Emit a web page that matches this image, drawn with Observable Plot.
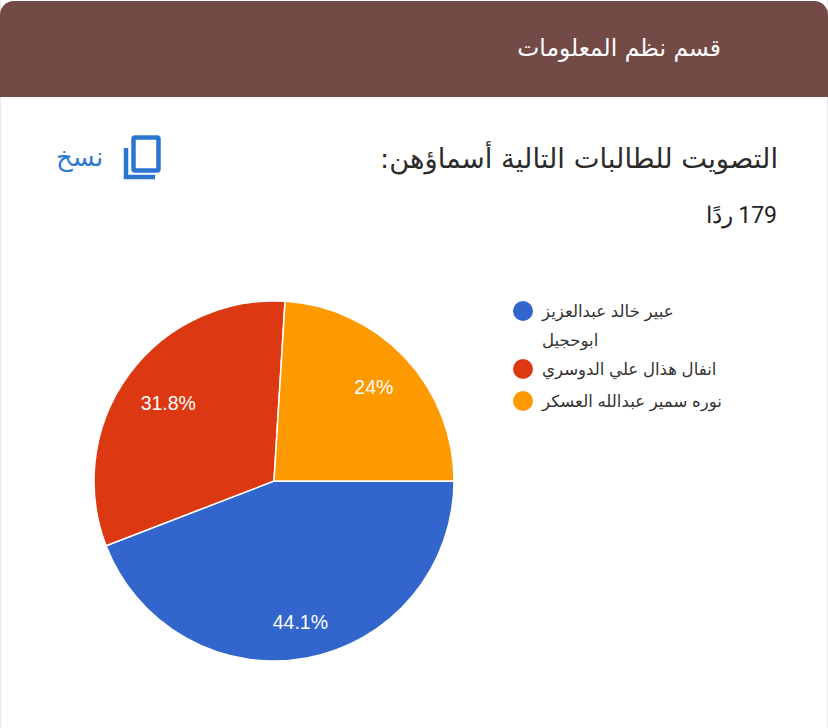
<!doctype html>
<html lang="ar"><head><meta charset="utf-8">
<script src="https://cdn.jsdelivr.net/npm/d3@7"></script>
<script src="https://cdn.jsdelivr.net/npm/@observablehq/plot@0.6"></script>
<style>
html,body{margin:0;padding:0;background:#fff;width:828px;height:728px;overflow:hidden}
#page{position:relative;width:828px;height:728px;font-family:"DejaVu Sans","Noto Sans",sans-serif;background:#fff}
#edge{position:absolute;left:0;top:0;width:826px;height:728px;border:1px solid #e8e8e8;border-top:0;border-bottom:0}
#head{position:absolute;left:0;top:1px;width:828px;height:96px;background:#734a46;border-radius:14px 14px 0 0}
.t{position:absolute;white-space:nowrap}
#sec{right:107px;top:28px;color:#fff;font-size:23.4px;line-height:40px}
#q{right:50px;top:139px;color:#2b2b2b;font-size:27.4px;line-height:40px}
#n{right:51px;top:200px;color:#222;font-size:23px;line-height:32px;font-family:Roboto,"Noto Sans",sans-serif}
#copy{left:56px;top:141px;color:#2f7bd0;font-size:26px;line-height:32px}
#ic{position:absolute;left:122px;top:133px}
#chart{position:absolute;left:0;top:240px}
</style></head><body>
<div id="page">
<div id="edge"></div>
<div id="head"></div>
<div class="t" id="sec" dir="rtl">قسم نظم المعلومات</div>
<div class="t" id="q" dir="rtl">التصويت للطالبات التالية أسماؤهن:</div>
<div class="t" id="n" dir="rtl">179 ردًا</div>
<div class="t" id="copy" dir="rtl">نسخ</div>
<svg id="ic" width="42" height="48" viewBox="0 0 42 48" fill="none" stroke="#2a75cf" stroke-width="4.5">
<rect x="11.5" y="4.5" width="25" height="33" rx="1.5"/><path d="M4 15V44H33"/></svg>
<div id="chart"></div>
</div>
<script>
const names = ["عبير خالد عبدالعزيز ابوحجيل","انفال هذال علي الدوسري","نوره سمير عبدالله العسكر"];
const legendLines = [["عبير خالد عبدالعزيز","ابوحجيل"],["انفال هذال علي الدوسري"],["نوره سمير عبدالله العسكر"]];
const shares = [44.1, 31.8, 24];
const shareLabels = ["44.1%", "31.8%", "24%"];
const colors = ["#3366cc", "#dc3912", "#ff9900"];
const W = 828, H = 488, cx = 274, cy = 241, R = 180;
const labelRadii = [144, 131, 137];
const legendY = [71, 129, 161];
const legendLeft = 542;

const arcs = d3.pie().sort(null).startAngle(Math.PI/2).endAngle(Math.PI/2 + 2*Math.PI)(shares);
const arcGen = d3.arc().innerRadius(0).outerRadius(R);
const rows = arcs.map((a,i)=>({name:names[i],share:shares[i],label:shareLabels[i],a,lr:labelRadii[i]}));

function pieMark(index, {color}){
  const g = d3.create("svg:g").attr("transform",`translate(${cx},${cy})`);
  g.selectAll("path").data(rows).join("path")
    .attr("d",d=>arcGen(d.a)).attr("fill",d=>color(d.name))
    .attr("stroke","#fff").attr("stroke-width",1.5);
  g.selectAll("text").data(rows).join("text")
    .attr("transform",d=>{const [x,y]=d3.arc().innerRadius(d.lr).outerRadius(d.lr).centroid(d.a);return `translate(${x},${y})`})
    .attr("text-anchor","middle").attr("dy","0.35em").attr("fill","#fff")
    .attr("font-family","'Liberation Sans',Arial,sans-serif").attr("font-size",19.5).text(d=>d.label);
  return g.node();
}
function legendMark(index, {color}){
  const g = d3.create("svg:g");
  rows.forEach((d,i)=>{
    g.append("circle").attr("cx",523).attr("cy",legendY[i]).attr("r",10).attr("fill",color(d.name));
    legendLines[i].forEach((ln,j)=>{
      g.append("text").attr("x",legendLeft).attr("y",legendY[i]+j*29).attr("dy","0.35em")
       .attr("text-anchor","end").attr("direction","rtl").attr("font-size",16.6).attr("fill","#333")
       .attr("font-family","'Liberation Sans','DejaVu Sans',sans-serif").text(ln);
    });
  });
  return g.node();
}
const plot = Plot.plot({
  width:W,height:H,margin:0,style:{background:"transparent"},
  x:{axis:null,domain:[0,1]},y:{axis:null,domain:[0,1]},
  color:{domain:names,range:colors},
  marks:[pieMark,legendMark,Plot.dot(rows,{x:()=>-10,y:()=>-10,fill:"name",r:0,clip:true})]
});
document.getElementById("chart").append(plot);
</script>
</body></html>
